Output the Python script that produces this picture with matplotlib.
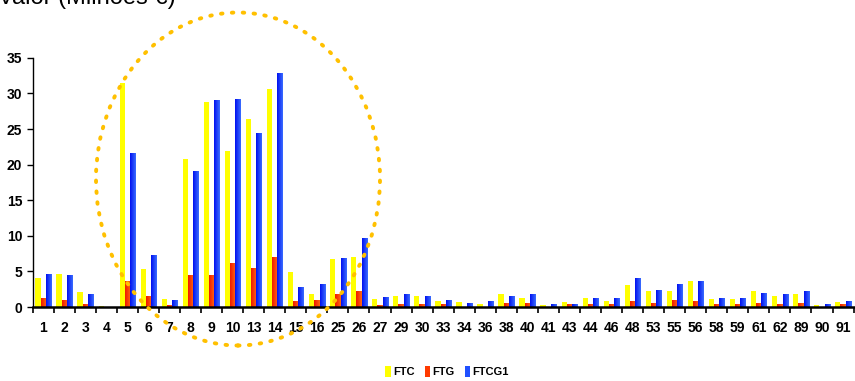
import numpy as np
import matplotlib
matplotlib.use("Agg")
import matplotlib.pyplot as plt
from matplotlib.patches import Ellipse
from matplotlib.colors import LinearSegmentedColormap

plt.rcParams['font.family'] = ['Liberation Sans Narrow', 'Liberation Sans', 'DejaVu Sans']

# categorias (eixo x)
categorias = ['1', '2', '3', '4', '5', '6', '7', '8', '9', '10', '13', '14', '15', '16',
              '25', '26', '27', '29', '30', '33', '34', '36', '38', '40', '41', '43', '44',
              '46', '48', '53', '55', '56', '58', '59', '61', '62', '89', '90', '91']

# valores (milhoes de euros)
ftc = [4.1, 4.7, 2.1, 0.2, 31.5, 5.3, 1.1, 20.8, 28.8, 21.9, 26.4, 30.6, 4.9, 1.8,
       6.7, 7.0, 1.2, 1.5, 1.55, 0.85, 0.7, 0.4, 1.8, 1.25, 0.3, 0.7, 1.25,
       0.85, 3.1, 2.25, 2.25, 3.65, 1.1, 1.1, 2.25, 1.55, 1.8, 0.3, 0.7]
ftg = [1.25, 0.95, 0.5, 0.0, 3.65, 1.5, 0.35, 4.45, 4.45, 6.15, 5.45, 7.0, 0.8, 0.95,
       1.9, 2.2, 0.35, 0.4, 0.4, 0.4, 0.0, 0.0, 0.55, 0.55, 0.0, 0.4, 0.4,
       0.4, 0.85, 0.55, 1.0, 0.85, 0.4, 0.4, 0.55, 0.4, 0.55, 0.0, 0.4]
ftcg1 = [4.6, 4.45, 1.9, 0.0, 21.6, 7.25, 0.95, 19.1, 29.05, 29.2, 24.4, 32.85, 2.75, 3.2,
         6.85, 9.65, 1.35, 1.8, 1.55, 1.0, 0.55, 0.85, 1.55, 1.8, 0.4, 0.4, 1.25,
         1.25, 4.05, 2.4, 3.25, 3.65, 1.25, 1.25, 1.95, 1.8, 2.25, 0.4, 0.85]

series = ['FTC', 'FTG', 'FTCG1']

fig = plt.figure(figsize=(8.55, 3.81), dpi=100)
ax = fig.add_axes([0.0383, 0.194, 0.96, 0.6543])

x = np.arange(len(categorias))
w = 0.25

# gradientes tipo excel
cm_red = LinearSegmentedColormap.from_list('r', ['#F01800', '#FF6A10'])
cm_blue = LinearSegmentedColormap.from_list('b', ['#0010F0', '#3A6CFF'])
grad = np.linspace(0, 1, 32).reshape(1, -1)

b1 = ax.bar(x - w, ftc, w, color='#FFFF00', linewidth=0)
b2 = ax.bar(x, ftg, w, color='#FF3000', linewidth=0)
b3 = ax.bar(x + w, ftcg1, w, color='#1030FF', linewidth=0)

for bars, cm in [(b2, cm_red), (b3, cm_blue)]:
    for b in bars:
        h = b.get_height()
        if h <= 0:
            continue
        x0 = b.get_x()
        im = ax.imshow(grad, cmap=cm, aspect='auto',
                       extent=[x0, x0 + b.get_width(), 0, h], zorder=2)
        im.set_clip_path(b)

ax.set_xlim(-0.5, len(categorias) - 0.5)
ax.set_ylim(0, 35)
ax.set_yticks(range(0, 36, 5))
ax.set_xticks(x)
ax.set_xticklabels(categorias, fontsize=10, fontweight='bold')
ax.set_xticks(np.arange(len(categorias) + 1) - 0.5, minor=True)
ax.tick_params(axis='x', which='major', length=0, pad=10)
ax.tick_params(axis='x', which='minor', length=4, width=1.2, direction='out')
ax.tick_params(axis='y', length=4, width=1, labelsize=10)
for t in ax.get_yticklabels():
    t.set_fontweight('bold')
ax.spines['top'].set_visible(False)
ax.spines['right'].set_visible(False)
ax.spines['bottom'].set_linewidth(1.8)
ax.spines['left'].set_linewidth(1)

# titulo cortado no topo (como no original)
fig.text(-0.002, 1 - 4 / 381, 'Valor (Milhões €)', fontsize=17,
         family=['Liberation Sans', 'DejaVu Sans'], va='baseline', ha='left')

# legenda
leg = fig.legend([b1, b2, b3], series, loc='center', bbox_to_anchor=(0.523, 0.024),
                 ncol=3, frameon=False, handlelength=0.5, handleheight=1.1,
                 handletextpad=0.2, columnspacing=0.9, prop={'size': 8, 'weight': 'bold'})
leg.legend_handles[1].set_color('#FF3A00')
leg.legend_handles[2].set_color('#2050FF')

# elipse pontilhada de destaque
ell = Ellipse((238 / 855, 1 - 179 / 381), 284 / 855, 333 / 381, transform=fig.transFigure,
              fill=False, edgecolor='#FFC000', linewidth=2.8, linestyle=(0, (0.4, 2.4)),
              capstyle='round', clip_on=False, zorder=10)
fig.add_artist(ell)

fig.savefig('out.png', dpi=100)
